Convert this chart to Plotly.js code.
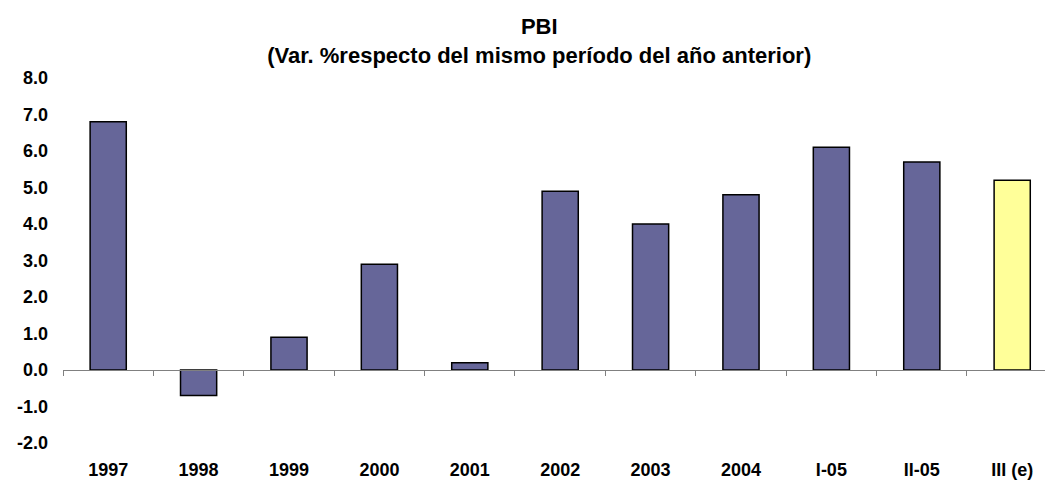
<!DOCTYPE html>
<html>
<head>
<meta charset="utf-8">
<script src="https://cdn.plot.ly/plotly-3.0.1.min.js"></script>
<style>html,body{margin:0;padding:0;background:#fff;}#chart{width:1045px;height:485px;}</style>
</head>
<body>
<div id="chart"></div>
<script>
const categories = ["1997", "1998", "1999", "2000", "2001", "2002", "2003", "2004", "I-05", "II-05", "III (e)"];
const values = [6.8, -0.7, 0.9, 2.9, 0.2, 4.9, 4.0, 4.8, 6.1, 5.7, 5.2];
const yTicks = [-2, -1, 0, 1, 2, 3, 4, 5, 6, 7, 8];
const titleLines = ["PBI", "(Var. %respecto del mismo período del año anterior)"];

const colors = categories.map(c => c.indexOf("(e)") >= 0 ? "#FFFF99" : "#666699");
const FONT = "Liberation Sans, Arial, sans-serif";

const trace = {
  type: "bar",
  x: categories,
  y: values,
  marker: {color: colors, line: {color: "#000000", width: 1.5}},
  hoverinfo: "x+y"
};

const layout = {
  width: 1045,
  height: 485,
  margin: {l: 63, r: 0, t: 78, b: 42},
  paper_bgcolor: "#ffffff",
  plot_bgcolor: "#ffffff",
  showlegend: false,
  bargap: 0.6,
  title: {
    text: titleLines.join("<br>"),
    font: {family: FONT, size: 22, color: "#000000", weight: "bold"},
    x: 0.516, xref: "container", xanchor: "center",
    y: 0.93, yref: "container", yanchor: "top"
  },
  xaxis: {
    type: "category",
    range: [-0.5, 10.363],
    anchor: "free",
    position: 0.2,
    showline: true, linecolor: "#808080", linewidth: 1,
    ticks: "outside", tickson: "boundaries", ticklen: 5, tickcolor: "#808080", tickwidth: 1,
    ticklabelstandoff: 83,
    showgrid: false, zeroline: false,
    tickfont: {family: FONT, size: 18, color: "#000000", weight: "bold"},
    fixedrange: true
  },
  yaxis: {
    range: [-2, 8],
    tickvals: yTicks,
    ticktext: yTicks.map(v => v.toFixed(1)),
    showline: false, showgrid: false, zeroline: false,
    ticks: "",
    ticklabelstandoff: 14,
    tickfont: {family: FONT, size: 18, color: "#000000", weight: "bold"},
    fixedrange: true
  }
};

Plotly.newPlot("chart", [trace], layout, {displayModeBar: false, staticPlot: true});
</script>
</body>
</html>
